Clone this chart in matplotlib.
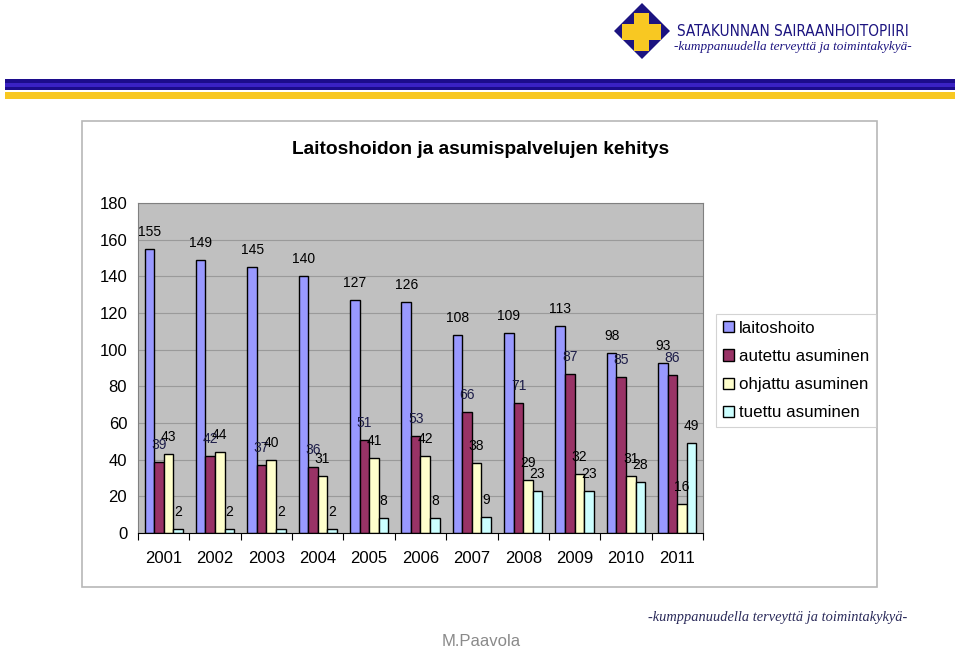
import numpy as np
import matplotlib
matplotlib.use("Agg")
import matplotlib.pyplot as plt
from matplotlib.patches import Polygon, Rectangle
from matplotlib import font_manager

years = ["2001", "2002", "2003", "2004", "2005", "2006", "2007", "2008", "2009", "2010", "2011"]
series_names = ["laitoshoito", "autettu asuminen", "ohjattu asuminen", "tuettu asuminen"]
laitoshoito = [155, 149, 145, 140, 127, 126, 108, 109, 113, 98, 93]
autettu = [39, 42, 37, 36, 51, 53, 66, 71, 87, 85, 86]
ohjattu = [43, 44, 40, 31, 41, 42, 38, 29, 32, 31, 16]
tuettu = [2, 2, 2, 2, 8, 8, 9, 23, 23, 28, 49]
yticks = list(range(0, 181, 20))

title = "Laitoshoidon ja asumispalvelujen kehitys"
org_name = "SATAKUNNAN SAIRAANHOITOPIIRI"
slogan = "-kumppanuudella terveyttä ja toimintakykyä-"
author = "M.Paavola"

colors = ["#9999ff", "#993366", "#ffffcc", "#ccffff"]
label_colors = ["#000000", "#1c1c48", "#000000", "#000000"]

plt.rcParams["font.family"] = ["Liberation Sans", "DejaVu Sans"]

W, H = 960, 648
fig = plt.figure(figsize=(9.6, 6.48), dpi=100)
fig.patch.set_facecolor("white")

def px(x, y):
    return (x / W, 1 - y / H)

# header stripes
fig.add_artist(Rectangle(px(5, 90), 950 / W, 11 / H, transform=fig.transFigure,
                         facecolor="#1c0c8c", edgecolor="none", zorder=-5))
fig.add_artist(Rectangle(px(5, 87), 950 / W, 4 / H, transform=fig.transFigure,
                         facecolor="#3a22c4", edgecolor="none", zorder=-5))
fig.add_artist(Rectangle(px(5, 99), 950 / W, 7 / H, transform=fig.transFigure,
                         facecolor="#f8c822", edgecolor="none", zorder=-5))

# logo
diamond = [px(642, 3), px(670, 31), px(642, 59), px(614, 31)]
fig.add_artist(Polygon(diamond, closed=True, transform=fig.transFigure,
                       facecolor="#1c1480", edgecolor="none", zorder=-5))
fig.add_artist(Rectangle(px(634, 51), 15 / W, 38 / H, transform=fig.transFigure,
                         facecolor="#f8c822", edgecolor="none", zorder=-4))
fig.add_artist(Rectangle(px(622, 40), 39 / W, 16 / H, transform=fig.transFigure,
                         facecolor="#f8c822", edgecolor="none", zorder=-4))

names = {f.name for f in font_manager.fontManager.ttflist}
narrow = "Liberation Sans Narrow" if "Liberation Sans Narrow" in names else "DejaVu Sans"
fig.text(*px(677, 31), org_name, family=[narrow], fontstretch="condensed",
         fontsize=11, color="#1c1480", ha="left", va="center")
fig.text(*px(674, 47), slogan, family=["Liberation Serif"], style="italic",
         fontsize=9.5, color="#1c1480", ha="left", va="center")

# chart frame
fig.add_artist(Rectangle(px(82, 587), 795 / W, 466 / H, transform=fig.transFigure,
                         facecolor="white", edgecolor="#b8b8b8", linewidth=1.2, zorder=-10))

fig.text(*px(481, 150), title, fontsize=13.8, fontweight="bold", ha="center", va="center")

ax = fig.add_axes([138 / W, 1 - 533 / H, (703 - 138) / W, (533 - 203) / H])
ax.set_zorder(2)
ax.set_facecolor("#c0c0c0")
ax.set_axisbelow(True)

x = np.arange(len(years))
w = 0.186
data = [laitoshoito, autettu, ohjattu, tuettu]
for i, (vals, c, lc, name) in enumerate(zip(data, colors, label_colors, series_names)):
    pos = x + (i - 1.5) * w
    ax.bar(pos, vals, width=w, color=c, edgecolor="black", linewidth=1.0, label=name)
    for xp, v in zip(pos, vals):
        ax.annotate(str(v), (xp, v), xytext=(0, 12.2), textcoords="offset points",
                    ha="center", va="center", fontsize=10, color=lc)

ax.set_xlim(-0.5, len(years) - 0.5)
ax.set_ylim(0, 180)
ax.set_yticks(yticks)
ax.set_yticklabels([str(t) for t in yticks], fontsize=12)
ax.set_xticks(x)
ax.set_xticklabels(years, fontsize=12)
ax.set_xticks(np.arange(-0.5, len(years), 1), minor=True)
ax.tick_params(axis="x", which="major", length=0, pad=13)
ax.tick_params(axis="x", which="minor", length=5, width=0.8, direction="out")
ax.tick_params(axis="y", length=0, pad=7.8)
ax.yaxis.grid(True, color="#9a9a9a", linewidth=0.8)
for s in ["top", "right", "left"]:
    ax.spines[s].set_color("#808080")
ax.spines["bottom"].set_color("black")

leg = fig.legend(loc="upper left", bbox_to_anchor=px(716, 314), bbox_transform=fig.transFigure,
                 fontsize=12.2, frameon=True, fancybox=False, edgecolor="#c8c8c8",
                 handlelength=0.65, handleheight=0.65, handletextpad=0.3,
                 labelspacing=0.78, borderpad=0.4, borderaxespad=0)
leg.get_frame().set_linewidth(0.8)

fig.text(*px(648, 617), slogan, family=["Liberation Serif"], style="italic",
         fontsize=10.4, color="#2a2a5a", ha="left", va="center")
fig.text(*px(481, 641), author, fontsize=12, color="#8a8a8a", ha="center", va="center")

fig.savefig("out.png", dpi=100)
